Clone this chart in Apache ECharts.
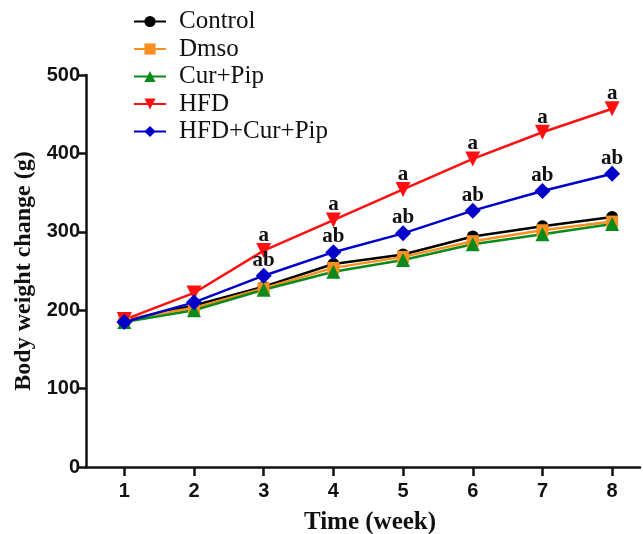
<!DOCTYPE html>
<html>
<head>
<meta charset="utf-8">
<script src="https://cdn.jsdelivr.net/npm/echarts@6/dist/echarts.min.js"></script>
<style>html,body{margin:0;padding:0;background:#fff}#c{width:643px;height:534px}</style>
</head>
<body>
<div id="c"></div>
<script>
const weeks = [1, 2, 3, 4, 5, 6, 7, 8];
const control = [187, 206, 230, 259, 271, 294, 307, 319];
const dmso = [188, 203, 228, 254, 268, 288, 302, 313];
const curPip = [185, 200, 226, 249, 264, 284, 297, 310];
const hfd = [188, 222, 276, 315, 354, 393, 427, 457];
const hfdCurPip = [185, 210, 244, 274, 298, 327, 352, 374];
const hfdLabels = ['', '', 'a', 'a', 'a', 'a', 'a', 'a'];
const hfdCurPipLabels = ['', '', 'ab', 'ab', 'ab', 'ab', 'ab', 'ab'];
const yTicks = [0, 100, 200, 300, 400, 500];

const serif = '"Liberation Serif", "Times New Roman", serif';
const sans = '"Liberation Sans", Arial, sans-serif';

function pts(vals) { return weeks.map((w, i) => [w, vals[i]]); }

function mk(name, vals, color, symbol, size, rotate, labels) {
  const s = {
    name: name,
    type: 'line',
    data: pts(vals),
    symbol: symbol,
    symbolSize: size,
    symbolRotate: rotate,
    showAllSymbol: true,
    lineStyle: { color: color, width: 2.5 },
    itemStyle: { color: color },
    emphasis: { disabled: true },
    animation: false
  };
  if (labels) {
    s.label = {
      show: true,
      position: 'top',
      distance: -3,
      formatter: p => labels[p.dataIndex],
      fontFamily: serif,
      fontWeight: 'bold',
      fontSize: 21,
      color: '#111'
    };
    s.labelLayout = { hideOverlap: false };
  }
  return s;
}

const chart = echarts.init(document.getElementById('c'));
chart.setOption({
  animation: false,
  backgroundColor: '#fff',
  grid: { left: 86, right: 3, top: 75, bottom: 67, containLabel: false, outerBoundsMode: 'none' },
  legend: {
    left: 128,
    top: 4,
    orient: 'vertical',
    itemWidth: 32,
    itemHeight: 14,
    itemGap: 2.5,
    textStyle: { fontFamily: serif, fontSize: 25, color: '#111', padding: [0, 0, 0, 8] },
    data: ['Control', 'Dmso', 'Cur+Pip', 'HFD', 'HFD+Cur+Pip']
  },
  xAxis: {
    type: 'value',
    min: 0.45,
    max: 8.4,
    splitLine: { show: false },
    axisLine: { lineStyle: { color: '#111', width: 2.5 } },
    axisTick: { show: true, length: 9, lineStyle: { color: '#111', width: 2.5 }, customValues: weeks },
    axisLabel: { customValues: weeks, fontFamily: sans, fontWeight: 'bold', fontSize: 20, color: '#111', margin: 14 },
    name: 'Time (week)',
    nameLocation: 'middle',
    nameGap: 43,
    nameTextStyle: { fontFamily: serif, fontWeight: 'bold', fontSize: 25, color: '#111', padding: [0, 0, 0, 14] }
  },
  yAxis: {
    type: 'value',
    min: 0,
    max: 500,
    interval: 100,
    splitLine: { show: false },
    axisLine: { show: true, lineStyle: { color: '#111', width: 2.5 } },
    axisTick: { show: true, length: 8, lineStyle: { color: '#111', width: 2.5 } },
    axisLabel: { fontFamily: sans, fontWeight: 'bold', fontSize: 20, color: '#111', margin: 6,
      formatter: v => yTicks.indexOf(v) >= 0 ? String(v) : '' },
    name: 'Body weight change (g)',
    nameLocation: 'middle',
    nameGap: 47,
    nameTextStyle: { fontFamily: serif, fontWeight: 'bold', fontSize: 24, color: '#111' }
  },
  series: [
    mk('Control', control, '#000000', 'circle', 12, 0, null),
    mk('Dmso', dmso, '#F7901E', 'rect', 12, 0, null),
    mk('Cur+Pip', curPip, '#0A8A1A', 'triangle', 14, 0, null),
    mk('HFD', hfd, '#FF1010', 'triangle', 15, 180, hfdLabels),
    mk('HFD+Cur+Pip', hfdCurPip, '#0000C8', 'diamond', 16, 0, hfdCurPipLabels)
  ]
});
</script>
</body>
</html>
